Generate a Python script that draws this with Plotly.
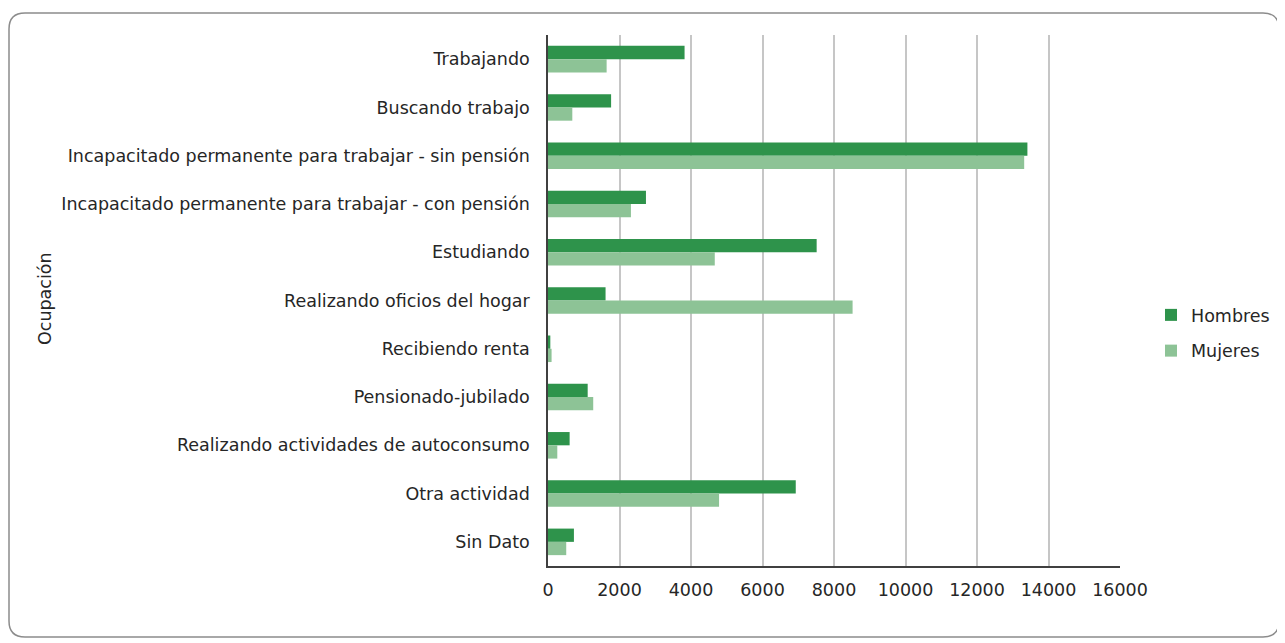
import plotly.graph_objects as go

categorias = [
    "Trabajando",
    "Buscando trabajo",
    "Incapacitado permanente para trabajar - sin pensión",
    "Incapacitado permanente para trabajar - con pensión",
    "Estudiando",
    "Realizando oficios del hogar",
    "Recibiendo renta",
    "Pensionado-jubilado",
    "Realizando actividades de autoconsumo",
    "Otra actividad",
    "Sin Dato",
]
hombres = [3820, 1765, 13410, 2740, 7515, 1610, 65, 1110, 605, 6930, 725]
mujeres = [1640, 680, 13320, 2320, 4665, 8520, 100, 1265, 260, 4785, 510]
tick_vals = [0, 2000, 4000, 6000, 8000, 10000, 12000, 14000, 16000]
tick_text = [str(v) for v in tick_vals]

OFF = 8  # page body margin
W, H = 1285 - OFF, 643 - OFF
# plot area in screen pixels
SL, SR, ST, SB = 548, 1120, 35, 566
L, R, T, B = SL - OFF, SR - OFF, ST - OFF, SB - OFF
FONT = "DejaVu Sans, Verdana, sans-serif"
FS = 17.5
TXT = "#262626"

fig = go.Figure()
fig.add_trace(go.Bar(y=categorias, x=hombres, name="Hombres", orientation="h",
                     legendgroup="h",
                     marker=dict(color="#2e934b", line=dict(width=0))))
fig.add_trace(go.Bar(y=categorias, x=mujeres, name="Mujeres", orientation="h",
                     legendgroup="m",
                     marker=dict(color="#8dc396", line=dict(width=0))))

def px(sx):
    return (sx - SL) / (SR - SL)

def py(sy):
    return (SB - sy) / (SB - ST)

# rounded border (screen px)
x0, y0, x1, y1, r = 9, 13, 1279, 637, 16
path = (f"M {px(x0+r)},{py(y0)} L {px(x1-r)},{py(y0)} Q {px(x1)},{py(y0)} {px(x1)},{py(y0+r)} "
        f"L {px(x1)},{py(y1-r)} Q {px(x1)},{py(y1)} {px(x1-r)},{py(y1)} "
        f"L {px(x0+r)},{py(y1)} Q {px(x0)},{py(y1)} {px(x0)},{py(y1-r)} "
        f"L {px(x0)},{py(y0+r)} Q {px(x0)},{py(y0)} {px(x0+r)},{py(y0)} Z")

fig.update_layout(
    width=W, height=H,
    margin=dict(l=L, r=W - R, t=T, b=H - B, autoexpand=False),
    paper_bgcolor="white", plot_bgcolor="white",
    barmode="group", bargap=0.45, bargroupgap=0,
    font=dict(family=FONT, size=FS, color=TXT),
    showlegend=True,
    legend=dict(x=px(1151), y=py(333), xanchor="left", yanchor="middle",
                font=dict(family=FONT, size=FS, color=TXT), itemwidth=30,
                tracegroupgap=10, traceorder="grouped"),
    shapes=[dict(type="path", xref="paper", yref="paper", path=path,
                 line=dict(color="#8c8c8c", width=1.5), fillcolor="rgba(0,0,0,0)",
                 layer="below")],
    annotations=[dict(text="Ocupación", xref="paper", yref="paper",
                      x=px(45), y=py(299), xanchor="center", yanchor="middle",
                      textangle=-90, showarrow=False,
                      font=dict(family=FONT, size=FS, color=TXT))],
)
fig.update_xaxes(range=[0, 16000], tickvals=tick_vals, ticktext=tick_text,
                 showgrid=True, gridcolor="#c6c6c6", gridwidth=1.5, zeroline=False,
                 showline=True, linecolor="#404040", linewidth=1.5,
                 ticks="", ticklabelstandoff=7, tickfont=dict(family=FONT, size=FS, color=TXT))
fig.update_yaxes(autorange="reversed", showgrid=False, zeroline=False,
                 showline=True, linecolor="#404040", linewidth=1.5,
                 ticks="", ticklabelstandoff=13, tickfont=dict(family=FONT, size=FS, color=TXT))

fig.write_html("out.html")
